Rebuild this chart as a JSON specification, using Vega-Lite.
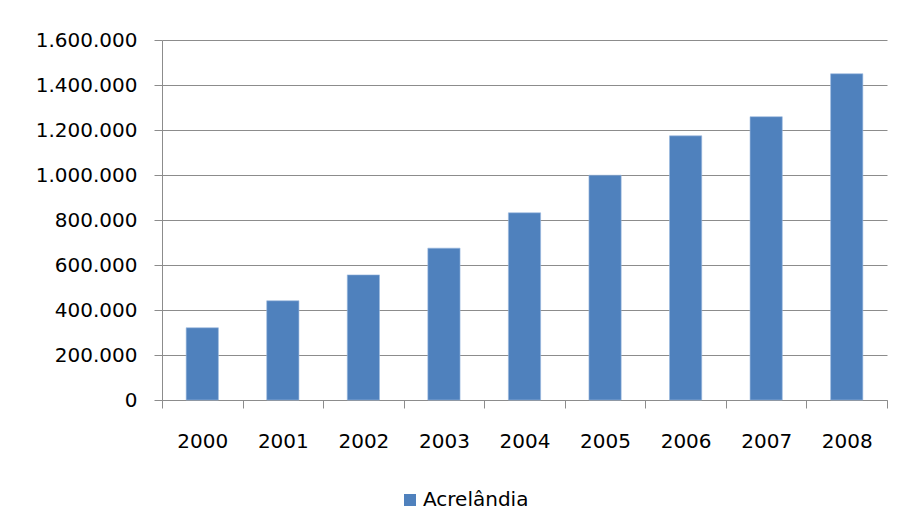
{
  "$schema": "https://vega.github.io/schema/vega-lite/v6.json",
  "width": 725,
  "height": 360,
  "autosize": {"type": "none"},
  "padding": {"left": 162, "top": 40, "right": 11, "bottom": 129},
  "background": "white",
  "data": {
    "values": [
      {"ano": "2000", "serie": "Acrelândia", "valor": 321000},
      {"ano": "2001", "serie": "Acrelândia", "valor": 441000},
      {"ano": "2002", "serie": "Acrelândia", "valor": 556000},
      {"ano": "2003", "serie": "Acrelândia", "valor": 675000},
      {"ano": "2004", "serie": "Acrelândia", "valor": 832000},
      {"ano": "2005", "serie": "Acrelândia", "valor": 999000},
      {"ano": "2006", "serie": "Acrelândia", "valor": 1174000},
      {"ano": "2007", "serie": "Acrelândia", "valor": 1259000},
      {"ano": "2008", "serie": "Acrelândia", "valor": 1450000}
    ]
  },
  "mark": {"type": "bar", "width": {"band": 0.4}, "stroke": "#9bb9df", "strokeWidth": 1, "strokeOpacity": 0.6},
  "encoding": {
    "x": {
      "field": "ano",
      "type": "nominal",
      "scale": {"paddingInner": 0, "paddingOuter": 0},
      "axis": {
        "title": null,
        "labelAngle": 0,
        "tickBand": "extent",
        "tickSize": 8,
        "tickColor": "#8c8c8c",
        "domainColor": "#8c8c8c",
        "labelPadding": 23,
        "labelFont": "DejaVu Sans",
        "labelFontSize": 20,
        "labelColor": "#000000"
      }
    },
    "y": {
      "field": "valor",
      "type": "quantitative",
      "scale": {"domain": [0, 1600000], "nice": false},
      "axis": {
        "title": null,
        "values": [0, 200000, 400000, 600000, 800000, 1000000, 1200000, 1400000, 1600000],
        "format": ",d",
        "grid": true,
        "gridColor": "#8c8c8c",
        "gridWidth": 1,
        "tickSize": 8,
        "tickColor": "#8c8c8c",
        "domainColor": "#8c8c8c",
        "labelPadding": 17,
        "labelFont": "DejaVu Sans",
        "labelFontSize": 20,
        "labelColor": "#000000"
      }
    },
    "color": {
      "field": "serie",
      "type": "nominal",
      "scale": {"range": ["#4f81bd"]},
      "legend": {
        "title": null,
        "orient": "none",
        "legendX": 238,
        "legendY": 450,
        "padding": 0,
        "symbolType": "square",
        "symbolSize": 144,
        "symbolStrokeWidth": 0,
        "labelOffset": 3,
        "labelFont": "DejaVu Sans",
        "labelFontSize": 20,
        "labelColor": "#000000"
      }
    }
  },
  "config": {
    "view": {"stroke": null},
    "locale": {
      "number": {"decimal": ",", "thousands": ".", "grouping": [3], "currency": ["R$ ", ""]}
    }
  }
}
